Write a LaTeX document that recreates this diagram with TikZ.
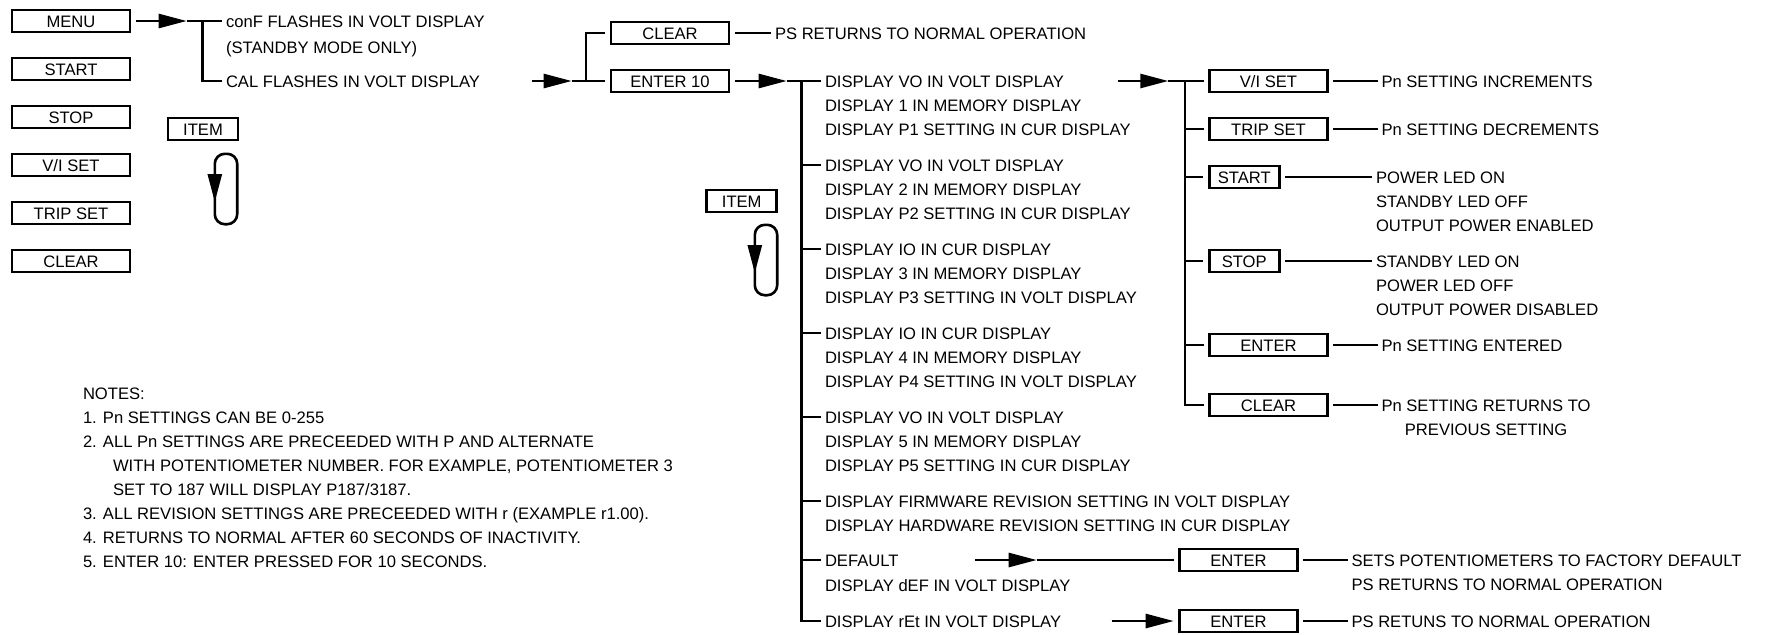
\documentclass[tikz,border=0pt]{standalone}
\usepackage{fontspec}
\setmainfont{Liberation Sans}
\usetikzlibrary{arrows.meta,positioning,calc}

\begin{document}
\begin{tikzpicture}[
    x=0.5pt, y=-0.5pt,
    node distance=24pt, on grid,
    font=\fontsize{8.3pt}{12pt}\selectfont,
    line width=1.3pt,
    block/.style={draw, minimum width=59pt, minimum height=11pt, inner sep=0pt, outer sep=2.9pt, text height=6pt, text depth=0pt},
    smallblock/.style={block, minimum width=35pt},
    loopbox/.style={draw, rounded corners=5pt, minimum width=11.2pt, minimum height=35.2pt, inner sep=0pt, outer sep=0pt},
    txt/.style={anchor=west, inner xsep=2pt, inner ysep=0pt, outer sep=0pt, text height=6pt, text depth=0pt},
    arrow/.style={-{Triangle[length=14pt,width=7pt]}}
]
\useasboundingbox (0,0) rectangle (1765,634);

\node[block] (menu) at (71,21) {MENU};
\node[block, below=of menu] (start) {START};
\node[block, below=of start] (stop) {STOP};
\node[block, below=of stop] (viset) {V/I SET};
\node[block, below=of viset] (tripset) {TRIP SET};
\node[block, below=of tripset] (clear) {CLEAR};

\node[smallblock] (item) at (203,129) {ITEM};
\node[loopbox] (loop) at (226,189) {};
\draw[arrow] ([yshift=7.5pt]loop.west) -- ([yshift=-6.5pt]loop.west);

\node[txt] (conf) at (222,21) {conF FLASHES IN VOLT DISPLAY};
\node[txt] (standby) at (222,47) {(STANDBY MODE ONLY)};
\node[txt] (cal) at (222,81) {CAL FLASHES IN VOLT DISPLAY};
\coordinate (menutip) at (186.7,21);
\coordinate (menuj) at (202.3,21);
\draw[arrow] (menu) -- (menutip);
\draw (menutip) -- (conf.west);
\draw (menuj) |- (cal.west);

\node[block] (clr) at (670,33) {CLEAR};
\node[block] (enterten) at (670,81) {ENTER 10};
\node[txt] (psret) at (771,33) {PS RETURNS TO NORMAL OPERATION};
\coordinate (calout) at (531.7,81);
\coordinate (caltip) at (571.7,81);
\coordinate (calj) at (586,81);
\draw[arrow] (calout) -- (caltip);
\draw (caltip) -- (enterten);
\draw (calj) |- (clr);
\draw (clr) -- (psret.west);

\node[smallblock] (item2) at (741.7,201) {ITEM};
\node[loopbox] (loop2) at (766,260) {};
\draw[arrow] ([yshift=7.5pt]loop2.west) -- ([yshift=-6.5pt]loop2.west);

\node[txt] (vo1) at (821,81) {DISPLAY VO IN VOLT DISPLAY};
\node[txt] (mem1) at (821,105) {DISPLAY 1 IN MEMORY DISPLAY};
\node[txt] (p1) at (821,129) {DISPLAY P1 SETTING IN CUR DISPLAY};
\node[txt] (vo2) at (821,165) {DISPLAY VO IN VOLT DISPLAY};
\node[txt] (mem2) at (821,189) {DISPLAY 2 IN MEMORY DISPLAY};
\node[txt] (p2) at (821,213) {DISPLAY P2 SETTING IN CUR DISPLAY};
\node[txt] (io3) at (821,249) {DISPLAY IO IN CUR DISPLAY};
\node[txt] (mem3) at (821,273) {DISPLAY 3 IN MEMORY DISPLAY};
\node[txt] (p3) at (821,297) {DISPLAY P3 SETTING IN VOLT DISPLAY};
\node[txt] (io4) at (821,333) {DISPLAY IO IN CUR DISPLAY};
\node[txt] (mem4) at (821,357) {DISPLAY 4 IN MEMORY DISPLAY};
\node[txt] (p4) at (821,381) {DISPLAY P4 SETTING IN VOLT DISPLAY};
\node[txt] (vo5) at (821,417) {DISPLAY VO IN VOLT DISPLAY};
\node[txt] (mem5) at (821,441) {DISPLAY 5 IN MEMORY DISPLAY};
\node[txt] (p5) at (821,465) {DISPLAY P5 SETTING IN CUR DISPLAY};
\node[txt] (fw) at (821,501) {DISPLAY FIRMWARE REVISION SETTING IN VOLT DISPLAY};
\node[txt] (hw) at (821,525) {DISPLAY HARDWARE REVISION SETTING IN CUR DISPLAY};
\node[txt] (dflt) at (821,560) {DEFAULT};
\node[txt] (def) at (821,585) {DISPLAY dEF IN VOLT DISPLAY};
\node[txt] (ret) at (821,621) {DISPLAY rEt IN VOLT DISPLAY};

\coordinate (tentip) at (786.7,81);
\coordinate (spine) at (801.5,81);
\draw[arrow] (enterten) -- (tentip);
\draw (tentip) -- (vo1.west);
\draw (spine) |- (ret.west);
\foreach \n in {vo2,io3,io4,vo5,fw,dflt}
  \draw (spine |- \n.west) -- (\n.west);

\node[block] (viset2) at (1268.5,81) {V/I SET};
\node[block, below=of viset2] (tripset2) {TRIP SET};
\node[smallblock] (start2) at (1244.2,177) {START};
\node[smallblock] (stop2) at (1244.2,261) {STOP};
\node[block] (enter2) at (1268.5,345) {ENTER};
\node[block] (clear2) at (1268.5,405) {CLEAR};

\coordinate (voout) at (1118.3,81);
\coordinate (votip) at (1168.3,81);
\coordinate (spine2) at (1185,81);
\draw[arrow] (voout) -- (votip);
\draw (votip) -- (viset2);
\draw (spine2) |- (clear2);
\foreach \n in {tripset2,start2,stop2,enter2}
  \draw (spine2 |- \n.west) -- (\n);

\node[txt] (incr) at (1377.5,81) {Pn SETTING INCREMENTS};
\node[txt] (decr) at (1377.5,129) {Pn SETTING DECREMENTS};
\node[txt] (pwron) at (1372,177) {POWER LED ON};
\node[txt] (sbyoff) at (1372,201) {STANDBY LED OFF};
\node[txt] (outen) at (1372,225) {OUTPUT POWER ENABLED};
\node[txt] (sbyon) at (1372,261) {STANDBY LED ON};
\node[txt] (pwroff) at (1372,285) {POWER LED OFF};
\node[txt] (outdis) at (1372,309) {OUTPUT POWER DISABLED};
\node[txt] (entered) at (1377.5,345) {Pn SETTING ENTERED};
\node[txt] (retto) at (1377.5,405) {Pn SETTING RETURNS TO};
\node[txt, anchor=center] (prevset) at ($(retto.center)+(0,24)$) {PREVIOUS SETTING};
\draw (viset2) -- (incr.west);
\draw (tripset2) -- (decr.west);
\draw (start2) -- (pwron.west);
\draw (stop2) -- (sbyon.west);
\draw (enter2) -- (entered.west);
\draw (clear2) -- (retto.west);

\node[block] (enterdef) at (1238.5,560) {ENTER};
\node[block] (enterret) at (1238.5,621) {ENTER};
\coordinate (dfltout) at (975,560);
\coordinate (dflttip) at (1036.7,560);
\coordinate (retout) at (1111.7,621);
\draw[arrow] (dfltout) -- (dflttip);
\draw (dflttip) -- (enterdef);
\draw[arrow] (retout) -- (enterret);
\node[txt] (factory) at (1347.5,560) {SETS POTENTIOMETERS TO FACTORY DEFAULT};
\node[txt] (psnorm) at (1347.5,584) {PS RETURNS TO NORMAL OPERATION};
\node[txt] (psretuns) at (1347.5,621) {PS RETUNS TO NORMAL OPERATION};
\draw (enterdef) -- (factory.west);
\draw (enterret) -- (psretuns.west);

\node[txt] (notes) at (79,393) {NOTES:};
\node[txt] (note1) at (79,417) {1. Pn SETTINGS CAN BE 0-255};
\node[txt] (note2) at (79,441) {2. ALL Pn SETTINGS ARE PRECEEDED WITH P AND ALTERNATE};
\node[txt] (note2b) at (109,465) {WITH POTENTIOMETER NUMBER. FOR EXAMPLE, POTENTIOMETER 3};
\node[txt] (note2c) at (109,489) {SET TO 187 WILL DISPLAY P187/3187.};
\node[txt] (note3) at (79,513) {3. ALL REVISION SETTINGS ARE PRECEEDED WITH r (EXAMPLE r1.00).};
\node[txt] (note4) at (79,537) {4. RETURNS TO NORMAL AFTER 60 SECONDS OF INACTIVITY.};
\node[txt] (note5) at (79,561) {5. ENTER 10: ENTER PRESSED FOR 10 SECONDS.};
\end{tikzpicture}
\end{document}
